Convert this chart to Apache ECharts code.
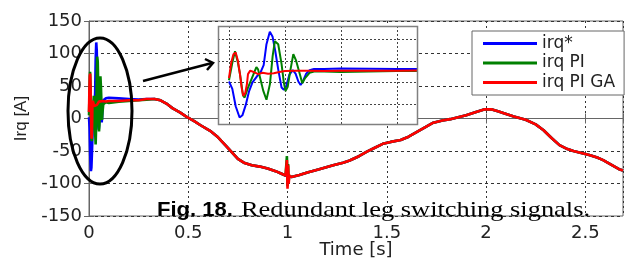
<!DOCTYPE html>
<html><head><meta charset="utf-8">
<script src="https://cdn.jsdelivr.net/npm/echarts@6/dist/echarts.min.js"></script>
<style>html,body{margin:0;padding:0;background:#fff}#c{width:625px;height:262px}</style>
</head><body><div id="c"></div>
<script>
const seriesNames = ['irq*', 'irq PI', 'irq PI GA'];
const seriesColors = ['#0000ff', '#008000', '#ff0000'];

// start-up transient (s, A)
const blueT = [0, 0.003, 0.006, 0.0095, 0.012, 0.015, 0.018, 0.021, 0.025, 0.028, 0.031, 0.0335, 0.0365, 0.039, 0.0415, 0.044, 0.047, 0.049, 0.051, 0.054, 0.057, 0.0595, 0.062, 0.064, 0.066, 0.069, 0.072, 0.076, 0.085];
const blueV = [2, -15, -55, -81, -76, -52, -20, 0, 14, 22, 40, 88, 117, 105, 70, 30, -12, -17, -10, 18, 28, 20, 2, -6, 2, 20, 28, 31, 31];
const greenT = [0, 0.003, 0.0054, 0.008, 0.0098, 0.0125, 0.014, 0.017, 0.0205, 0.0245, 0.026, 0.0277, 0.0306, 0.0335, 0.035, 0.0366, 0.039, 0.041, 0.0425, 0.044, 0.047, 0.049, 0.0505, 0.0525, 0.055, 0.0575, 0.06, 0.0634, 0.0655, 0.068, 0.072, 0.076, 0.085];
const greenV = [5, 45, 72, 45, 20, -30, -35, -12, 10, 35, 30, 12, -19, -40, -38, -4, 60, 95, 98, 88, 42, 0, -20, -10, 30, 65, 50, 18, -2, 10, 22, 25, 25];
const redT = [0, 0.002, 0.004, 0.006, 0.008, 0.0098, 0.0115, 0.0128, 0.0145, 0.016, 0.017, 0.019, 0.022, 0.026, 0.03, 0.035, 0.04, 0.045, 0.05, 0.06, 0.07, 0.085];
const redV = [10, 45, 65, 69, 50, 19, -15, -31, -25, -5, 19, 27, 24, 19, 22, 20, 21, 24, 26, 27, 27, 26];

// slow part (s, A)
const slowT = [0.1, 0.15, 0.2, 0.25, 0.29, 0.33, 0.36, 0.39, 0.42, 0.46, 0.49, 0.53, 0.56, 0.61, 0.65, 0.69, 0.72, 0.75, 0.78, 0.82, 0.86, 0.9, 0.94, 0.97, 0.99, 0.997, 1.0, 1.003, 1.006, 1.009, 1.02, 1.06, 1.1, 1.16, 1.23, 1.28, 1.31, 1.36, 1.4, 1.44, 1.48, 1.52, 1.57, 1.61, 1.65, 1.69, 1.73, 1.78, 1.82, 1.86, 1.9, 1.95, 1.99, 2.03, 2.06, 2.09, 2.14, 2.2, 2.25, 2.29, 2.33, 2.37, 2.41, 2.44, 2.48, 2.52, 2.56, 2.59, 2.63, 2.67, 2.69];
const slowBlue = [32, 31, 30, 29, 30, 30, 28, 23, 16, 9, 3, -4, -10, -19, -29, -42, -52, -62, -68, -72, -74, -77, -81, -85, -88, -86, -90, -88, -89, -88, -90, -87, -83, -78, -72, -68, -65, -58, -51, -45, -39, -36, -33, -28, -21, -14, -7, -3, -1, 2, 5, 10, 14, 14, 11, 8, 3, -2, -9, -18, -30, -41, -47, -50, -53, -56, -60, -64, -71, -78, -80];
const slowGreen = [24, 26, 27, 28, 29, 30, 28, 23, 16, 9, 3, -4, -10, -19, -29, -42, -52, -62, -68, -72, -74, -77, -81, -85, -88, -58, -104, -70, -96, -88, -90, -87, -83, -78, -72, -68, -65, -58, -51, -45, -39, -36, -33, -28, -21, -14, -7, -3, -1, 2, 5, 10, 14, 14, 11, 8, 3, -2, -9, -18, -30, -41, -47, -50, -53, -56, -60, -64, -71, -78, -80];
const slowRed = [27, 27, 28, 28, 30, 30, 28, 23, 16, 9, 3, -4, -10, -19, -29, -42, -52, -62, -68, -72, -74, -77, -81, -85, -88, -64, -108, -72, -100, -88, -90, -87, -83, -78, -72, -68, -65, -58, -51, -45, -39, -36, -33, -28, -21, -14, -7, -3, -1, 2, 5, 10, 14, 14, 11, 8, 3, -2, -9, -18, -30, -41, -47, -50, -53, -56, -60, -64, -71, -78, -80];

// inset window and its grid values
const insetX = [-0.0098, 0.168];
const insetY = [-96, 130];
const insetGridX = [0, 0.05, 0.1, 0.15];
const insetGridY = [-50, 0, 50, 100];
const caption1 = 'Fig. 18.';
const caption2 = 'Redundant leg switching signals.';

const pairs = (t, v) => t.map((x, i) => [x, v[i]]);
const dataSets = [
  pairs(blueT, blueV).concat(pairs(slowT, slowBlue)),
  pairs(greenT, greenV).concat(pairs(slowT, slowGreen)),
  pairs(redT, redV).concat(pairs(slowT, slowRed))
];

const font = 'DejaVu Sans';
const txt = '#222';
const mainSeries = dataSets.map((d, i) => ({
  type: 'line', name: seriesNames[i], xAxisIndex: 0, yAxisIndex: 0, data: d,
  showSymbol: false, symbol: 'none', color: seriesColors[i],
  lineStyle: { width: 2.6, color: seriesColors[i] }, z: 2
}));
const insetSeries = dataSets.map((d, i) => ({
  type: 'line', name: seriesNames[i], xAxisIndex: 2, yAxisIndex: 2, data: d,
  showSymbol: false, symbol: 'none', color: seriesColors[i],
  lineStyle: { width: 2, color: seriesColors[i] }, zlevel: 3, z: 8
}));

const tickOnly = { show: true, inside: true, length: 5, lineStyle: { color: '#666' } };
const IB = { left: 218, top: 26, width: 199, height: 98 };
const option = {
  animation: false,
  backgroundColor: '#fff',
  grid: [
    { left: 89, top: 21, right: 2, bottom: 46, show: true, borderColor: '#666', borderWidth: 1, backgroundColor: '#fff', z: 0, containLabel: false, outerBoundsMode: 'none' },
    { left: IB.left, top: IB.top, width: IB.width, height: IB.height, show: false, containLabel: false, outerBoundsMode: 'none' }
  ],
  xAxis: [
    { gridIndex: 0, type: 'value', min: 0, max: 2.69, interval: 0.5, position: 'bottom',
      axisLine: { show: true, lineStyle: { color: '#666' } }, axisTick: tickOnly,
      axisLabel: { fontFamily: font, fontSize: 18, color: txt, margin: 8,
        formatter: v => (Math.abs(v * 2 - Math.round(v * 2)) < 1e-6 ? String(v) : '') },
      splitLine: { show: true, lineStyle: { color: '#333', type: [2, 3], width: 1 } },
      name: 'Time [s]', nameLocation: 'middle', nameGap: 25, nameMoveOverlap: false,
      nameTextStyle: { fontFamily: font, fontSize: 18, color: txt } },
    { gridIndex: 0, type: 'value', min: 0, max: 2.69, interval: 0.5, position: 'top',
      axisLine: { show: false }, axisTick: tickOnly, axisLabel: { show: false }, splitLine: { show: false } },
    { gridIndex: 1, type: 'value', min: insetX[0], max: insetX[1], show: false }
  ],
  yAxis: [
    { gridIndex: 0, type: 'value', min: -150, max: 150, interval: 50, position: 'left',
      axisLine: { show: true, lineStyle: { color: '#666' } }, axisTick: tickOnly,
      axisLabel: { fontFamily: font, fontSize: 18, color: txt, margin: 7 },
      splitLine: { show: true, lineStyle: { color: '#333', type: [3, 3], width: 1 } },
      name: 'Irq [A]', nameLocation: 'middle', nameGap: 59, nameMoveOverlap: false,
      nameTextStyle: { fontFamily: 'Liberation Sans', fontSize: 17, color: txt } },
    { gridIndex: 0, type: 'value', min: -150, max: 150, interval: 50, position: 'right',
      axisLine: { show: false }, axisTick: tickOnly, axisLabel: { show: false }, splitLine: { show: false } },
    { gridIndex: 1, type: 'value', min: insetY[0], max: insetY[1], show: false }
  ],
  legend: {
    data: seriesNames, orient: 'vertical', left: 472, top: 31,
    padding: [4, 9, 4, 11], itemGap: 2.5, itemWidth: 54, itemHeight: 3, icon: 'rect',
    backgroundColor: '#fff', borderColor: '#666', borderWidth: 1, selectedMode: false,
    textStyle: { fontFamily: font, fontSize: 17, color: txt, lineHeight: 17 }, zlevel: 4, z: 10
  },
  series: mainSeries.concat(insetSeries),
  graphic: [
    { type: 'rect', shape: { x: IB.left, y: IB.top, width: IB.width, height: IB.height }, style: { fill: '#fff' }, zlevel: 1, silent: true },
    { type: 'rect', shape: { x: IB.left + 0.5, y: IB.top + 0.5, width: IB.width, height: IB.height }, style: { fill: 'none', stroke: '#808080', lineWidth: 1.5 }, zlevel: 4, silent: true },
    { type: 'ellipse', shape: { cx: 100, cy: 111, rx: 32, ry: 73 }, style: { fill: 'none', stroke: '#000', lineWidth: 3 }, zlevel: 4 },
    { type: 'line', shape: { x1: 143, y1: 81, x2: 212, y2: 63 }, style: { stroke: '#000', lineWidth: 2.5 }, zlevel: 4 },
    { type: 'polyline', shape: { points: [[205, 59], [213, 63], [207, 70]] }, style: { stroke: '#000', lineWidth: 2.5, fill: 'none' }, zlevel: 4 },
    { type: 'text', x: 157, y: 210, scaleX: 1.1, zlevel: 4,
      style: { text: caption1, font: 'bold 20px "Liberation Sans"', fill: '#000', textAlign: 'left', textVerticalAlign: 'middle' } },
    { type: 'text', x: 241, y: 210, scaleX: 1.2, zlevel: 4,
      style: { text: caption2, font: '22px "Liberation Serif"', fill: '#000', textAlign: 'left', textVerticalAlign: 'middle' } }
  ]
};
const chart = echarts.init(document.getElementById('c'), null, { renderer: 'canvas' });
chart.setOption(option);

// inset grid lines placed through the inset grid's own scales
const toPx = (x, y) => chart.convertToPixel({ gridIndex: 1 }, [x, y]);
const gridStyle = { stroke: '#444', lineWidth: 1, lineDash: [2, 2] };
const insetLines = [];
insetGridX.forEach(v => {
  const a = toPx(v, insetY[1]), b = toPx(v, insetY[0]);
  const x = Math.round(a[0]) + 0.5;
  insetLines.push({ type: 'line', shape: { x1: x, y1: a[1], x2: x, y2: b[1] }, style: gridStyle, zlevel: 2, silent: true });
});
insetGridY.forEach(v => {
  const a = toPx(insetX[0], v), b = toPx(insetX[1], v);
  const y = Math.round(a[1]) + 0.5;
  insetLines.push({ type: 'line', shape: { x1: a[0], y1: y, x2: b[0], y2: y }, style: gridStyle, zlevel: 2, silent: true });
});
option.graphic = option.graphic.concat(insetLines);
chart.setOption(option, true);
</script>
</body></html>
